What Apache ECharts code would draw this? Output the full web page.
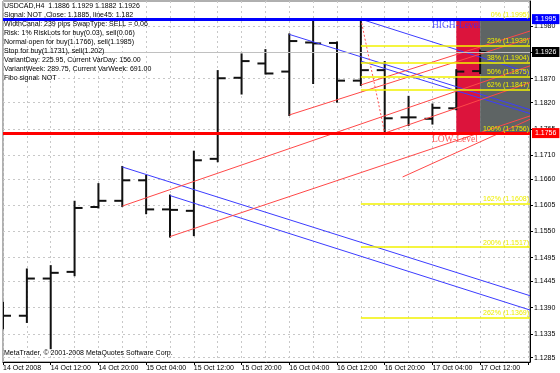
<!DOCTYPE html>
<html><head><meta charset="utf-8">
<script src="https://cdn.jsdelivr.net/npm/echarts@6/dist/echarts.min.js"></script>
<style>html,body{margin:0;padding:0;background:#fff}#c{width:560px;height:373px}</style>
</head><body><div id="c"></div>
<script>
// ---- data ----
const barTimes = ['14 Oct 04:00','14 Oct 08:00','14 Oct 12:00','14 Oct 16:00','14 Oct 20:00','15 Oct 00:00','15 Oct 04:00','15 Oct 08:00','15 Oct 12:00','15 Oct 16:00','15 Oct 20:00','16 Oct 00:00','16 Oct 04:00','16 Oct 08:00','16 Oct 12:00','16 Oct 16:00','16 Oct 20:00','17 Oct 00:00','17 Oct 04:00','17 Oct 08:00','17 Oct 12:00'];
const openP  = [1.1380,1.1373,1.1451,1.1465,1.1601,1.1614,1.1657,1.1596,1.1593,1.1702,1.1872,1.1902,1.1885,1.1946,1.1945,1.1866,1.1888,1.1789,1.1786,1.1808,1.1886];
const highP  = [1.1400,1.1470,1.1477,1.1612,1.1649,1.1685,1.1666,1.1625,1.1717,1.1886,1.1921,1.1930,1.1963,1.1989,1.1946,1.1995,1.1905,1.1832,1.1816,1.1888,1.1929];
const lowP   = [1.1347,1.1360,1.1305,1.1458,1.1600,1.1603,1.1588,1.1539,1.1542,1.1697,1.1839,1.1881,1.1794,1.1861,1.1822,1.1857,1.1756,1.1773,1.1776,1.1806,1.1882];
const closeP = [1.1373,1.1451,1.1463,1.1599,1.1614,1.1657,1.1596,1.1595,1.1699,1.1871,1.1907,1.1881,1.1949,1.1944,1.1866,1.1888,1.1787,1.1789,1.1809,1.1885,1.1926];

const xLabels = ['14 Oct 2008','14 Oct 12:00','14 Oct 20:00','15 Oct 04:00','15 Oct 12:00','15 Oct 20:00','16 Oct 04:00','16 Oct 12:00','16 Oct 20:00','17 Oct 04:00','17 Oct 12:00'];
const yTickLabels = ['1.1285','1.1335','1.1390','1.1445','1.1495','1.1550','1.1605','1.1660','1.1710','1.1765','1.1820','1.1870','1.1925','1.1980'];

const xEnd = 22.09;           // right edge of the chart, in bars
const yMin = 1.1276, yMax = 1.2033;

const highLevel = 1.1995, lowLevel = 1.1756, bidPrice = 1.1926;

const fiboNames  = ['0%','23%','38%','50%','62%','100%','162%','200%','262%'];
const fiboValues = [1.1995,1.1939,1.1904,1.1875,1.1847,1.1756,1.1608,1.1517,1.1369];
const fiboStartBar = 15;

const blueLines = [
  [[5,1.1685],[xEnd,1.1415]],
  [[7,1.1625],[xEnd,1.1385]],
  [[12,1.1963],[xEnd,1.1805]],
  [[15,1.1907],[xEnd,1.1797]],
  [[15,1.1995],[xEnd,1.1882]]
];
const redLines = [
  [[5,1.1603],[xEnd,1.1897]],
  [[7,1.1539],[xEnd,1.1792]],
  [[12,1.1794],[xEnd,1.1955]],
  [[15,1.1857],[xEnd,1.1970]],
  [[16,1.1756],[xEnd,1.1862]],
  [[16.75,1.1664],[xEnd,1.1785]]
];
const dashedLine = [[15,1.1995],[16,1.1756]];

const signalBoxes = [[19,20],[20,xEnd]];
const levelTextBar = 18;

const infoLines = [
  'USDCAD,H4  1.1886 1.1929 1.1882 1.1926',
  'Signal: NOT ,Close: 1.1885, line45: 1.182',
  'WidthCanal: 239 pips SwapType: SELL = 0.06',
  'Risk: 1% RiskLots for buy(0.03), sell(0.06)',
  'Normal open for buy(1.1766), sell(1.1985)',
  'Stop for buy(1.1731), sell(1.202)',
  'VariantDay: 225.95, Current VarDay: 156.00',
  'VariantWeek: 289.75, Current VarWeek: 691.00',
  'Fibo signal: NOT'
];
const copyrightText = 'MetaTrader, © 2001-2008 MetaQuotes Software Corp.';

// ---- chart ----
const FONT = 'Liberation Sans';
const gridLine = {color:'#c8c8c8', type:[2,3], width:1};
const chart = echarts.init(document.getElementById('c'), null, {renderer:'canvas'});

const series = [];
// background signal boxes
series.push({
  type:'line', data:[], z:-1, silent:true,
  markArea:{silent:true, precision:4, data:[
    [{xAxis:signalBoxes[0][0], yAxis:highLevel, itemStyle:{color:'#dc143c'}},{xAxis:signalBoxes[0][1], yAxis:lowLevel}],
    [{xAxis:signalBoxes[1][0], yAxis:highLevel, itemStyle:{color:'#5e6464'}},{xAxis:signalBoxes[1][1], yAxis:lowLevel}]
  ]}
});
// fibo levels
series.push({
  type:'line', data:[], z:1, silent:true,
  markLine:{silent:true, precision:4, symbol:['none','none'],
    lineStyle:{color:'#f2f200', width:1.5, type:'solid'},
    label:{show:true, position:'insideEndTop', distance:1, color:'#eeee00', fontSize:7, fontFamily:FONT},
    data: fiboValues.map((v,i)=>[
      {coord:[fiboStartBar, v], label:{formatter: fiboNames[i]+' ('+v.toFixed(4)+')'}},
      {coord:[xEnd, v]}
    ])
  }
});
// OHLC bars
series.push({
  type:'custom', z:2, clip:true,
  renderItem:(params, api)=>{
    const x = api.value(0);
    const pO = api.coord([x, api.value(1)]);
    const pH = api.coord([x, api.value(2)]);
    const pL = api.coord([x, api.value(3)]);
    const pC = api.coord([x, api.value(4)]);
    const st = {stroke:'#111', lineWidth:2};
    return {type:'group', children:[
      {type:'line', shape:{x1:pH[0], y1:pH[1]-1, x2:pL[0], y2:pL[1]+1}, style:st},
      {type:'line', shape:{x1:pO[0]-8, y1:pO[1], x2:pO[0], y2:pO[1]}, style:st},
      {type:'line', shape:{x1:pC[0], y1:pC[1], x2:pC[0]+8, y2:pC[1]}, style:st}
    ]};
  },
  encode:{x:0, y:[1,2,3,4]},
  data: openP.map((o,i)=>[i, o, highP[i], lowP[i], closeP[i]])
});
// channel lines
blueLines.forEach(d=>series.push({type:'line', z:3, data:d, symbol:'none', silent:true,
  lineStyle:{color:'#3c3cff', width:1}}));
redLines.forEach(d=>series.push({type:'line', z:3, data:d, symbol:'none', silent:true,
  lineStyle:{color:'#ff4848', width:1}}));
series.push({type:'line', z:3, data:dashedLine, symbol:'none', silent:true,
  lineStyle:{color:'#ff5050', width:1, type:[2,2]}});
// level lines + axis boxes
series.push({
  type:'line', data:[], z:4, silent:true,
  markLine:{silent:true, precision:4, symbol:['none','none'], data:[
    {yAxis:bidPrice, lineStyle:{color:'#c0c0c0', width:1, type:'solid'},
      label:{show:true, position:'end', distance:2, formatter:bidPrice.toFixed(4), color:'#fff', backgroundColor:'#000', padding:[2,3,1,3], fontSize:7, fontFamily:FONT}},
    {yAxis:highLevel, lineStyle:{color:'#0000ff', width:3, type:'solid'},
      label:{show:true, position:'end', distance:2, formatter:highLevel.toFixed(4), color:'#fff', backgroundColor:'#0000ff', padding:[2,3,1,3], fontSize:7, fontFamily:FONT}},
    {yAxis:lowLevel, lineStyle:{color:'#ff0000', width:3, type:'solid'},
      label:{show:true, position:'end', distance:2, formatter:lowLevel.toFixed(4), color:'#fff', backgroundColor:'#ff0000', padding:[2,3,1,3], fontSize:7, fontFamily:FONT}}
  ]}
});
// HIGH / LOW level texts
series.push({
  type:'scatter', z:5, silent:true, symbolSize:1, itemStyle:{color:'rgba(0,0,0,0)'},
  data:[
    {value:[levelTextBar, highLevel], name:'HIGH-Level', label:{color:'#3030ff'}},
    {value:[levelTextBar, lowLevel], name:'LOW-Level', label:{color:'#ff3030'}}
  ],
  label:{show:true, position:[0,2], align:'left', verticalAlign:'top', formatter:'{b}',
    fontFamily:'Liberation Serif', fontSize:9.5}
});

chart.setOption({
  animation:false,
  backgroundColor:'#ffffff',
  textStyle:{fontFamily:FONT},
  title:[
    {text:infoLines.join('\n'), left:4, top:2, padding:0,
      textStyle:{fontSize:7, lineHeight:9, fontWeight:'normal', color:'#000', fontFamily:FONT}},
    {text:copyrightText, left:4, top:350, padding:0,
      textStyle:{fontSize:7, fontWeight:'normal', color:'#000', fontFamily:FONT}}
  ],
  grid:{left:2.5, right:30, top:1, bottom:11, show:true, borderColor:'#606060', borderWidth:1, containLabel:false},
  xAxis:{type:'value', min:0, max:xEnd, interval:2,
    axisLine:{show:true, onZero:false, lineStyle:{color:'#000'}},
    axisTick:{show:true, length:3, lineStyle:{color:'#000'}},
    axisLabel:{show:true, align:'left', margin:3, fontSize:7, color:'#000', fontFamily:FONT,
      showMaxLabel:false,
      formatter:v=>{const k=Math.round(v); return (k===v && k%2===0 && xLabels[k/2]) ? xLabels[k/2] : '';}},
    splitLine:{show:true, lineStyle:gridLine},
    minorTick:{show:false, splitNumber:2},
    minorSplitLine:{show:true, lineStyle:gridLine}
  },
  yAxis:{type:'value', position:'right', min:yMin, max:yMax, scale:true,
    axisLine:{show:true, onZero:false, lineStyle:{color:'#000'}},
    axisTick:{show:true, length:3, lineStyle:{color:'#000'}, customValues:yTickLabels.map(Number)},
    axisLabel:{show:true, margin:4, fontSize:7, color:'#000', fontFamily:FONT,
      customValues:yTickLabels.map(Number), formatter:v=>v.toFixed(4)},
    splitLine:{show:true, lineStyle:gridLine}
  },
  series
});
</script></body></html>
